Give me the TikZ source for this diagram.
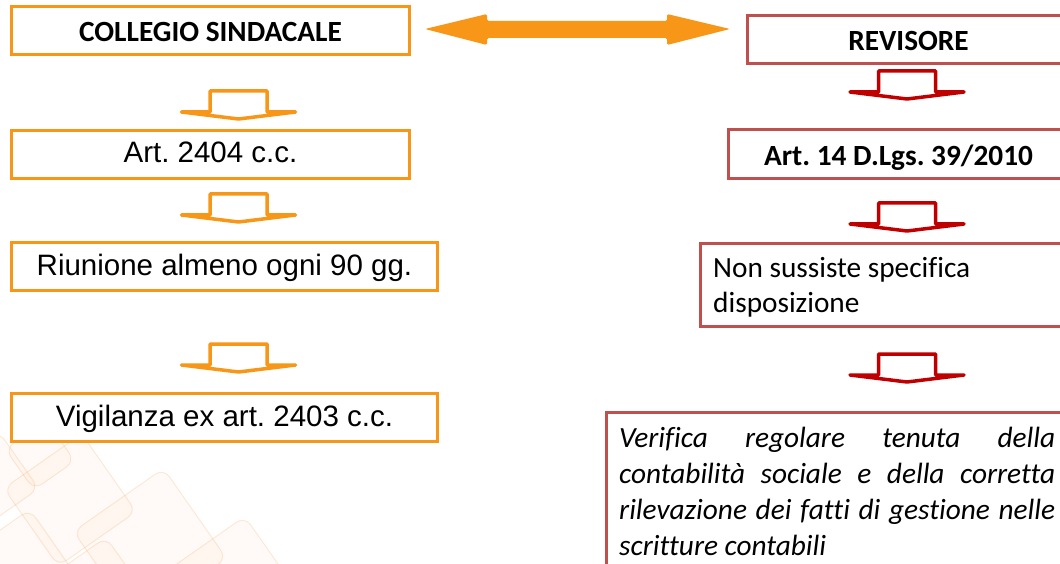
\documentclass[tikz,border=0pt]{standalone}
\usepackage{fontspec}
\setmainfont{Carlito}[Ligatures={NoCommon,NoContextual,NoRare}]
\newfontfamily\arialfont{Liberation Sans}
\definecolor{orng}{RGB}{248,150,24}
\definecolor{rborder}{RGB}{192,80,77}
\definecolor{rarrow}{RGB}{192,0,0}
\definecolor{peach}{RGB}{246,160,90}

\tikzset{
  pics/blockdown/.style={code={
    \draw[line width=3.5pt, line join=round, line cap=round, fill=white, #1]
      (-28.5,21) -- (-28.5,0) -- (28.5,0) -- (28.5,21) -- (57,21) -- (0,28) -- (-57,21) -- cycle;
  }},
  tile/.style={rounded corners=10pt, draw=peach, draw opacity=0.22, fill=peach, fill opacity=0.05, line width=1pt}
}

\begin{document}
\frenchspacing
\begin{tikzpicture}[x=1pt,y=-1pt,
  obox/.style={draw=orng, line width=3pt, fill=white, rectangle, anchor=north west, inner sep=0pt},
  rbox/.style={draw=rborder, line width=3pt, fill=white, rectangle, anchor=north west, inner sep=0pt},
  ltext/.style={font=\arialfont\fontsize{29.5}{34}\selectfont, text height=21pt, text depth=4pt},
  htext/.style={font=\fontsize{29.3}{34}\selectfont\bfseries, text height=27pt, text depth=4pt}
]
\useasboundingbox (0,0) rectangle (1060,564);
\clip (0,0) rectangle (1060,564);

% faint tiled ornament in the lower left corner
\begin{scope}
  \foreach \cx/\cy/\s in {70/500/95, 150/545/110, 20/565/80, 95/600/90, 230/600/120, -10/480/70, 40/455/50}{
    \draw[tile, rotate around={35:(\cx,\cy)}] (\cx-\s/2,\cy-\s/2) rectangle (\cx+\s/2,\cy+\s/2);
  }
\end{scope}

% left column
\node[obox, minimum width=398pt, minimum height=48pt, htext] (cs) at (10,5) {COLLEGIO SINDACALE};
\node[obox, minimum width=398pt, minimum height=48pt, ltext] (art) at (10,129) {Art. 2404 c.c.};
\node[obox, minimum width=426pt, minimum height=48pt, ltext] (riu) at (10,241) {Riunione almeno ogni 90 gg.};
\node[obox, minimum width=426pt, minimum height=48pt, ltext] (vig) at (10,392) {Vigilanza ex art. 2403 c.c.};

\pic at (238.5,91) {blockdown={draw=orng}};
\pic at (238.5,194) {blockdown={draw=orng}};
\pic at (238.5,344) {blockdown={draw=orng}};

% right column
\node[rbox, minimum width=322pt, minimum height=48pt, htext] (rev) at (746,14) {REVISORE};
\node[rbox, minimum width=340pt, minimum height=49pt, htext] (art14) at (727,128) {Art. 14 D.Lgs. 39/2010};
\node[rbox, minimum width=380pt, minimum height=83pt] (non) at (699,242) {};
\node[anchor=base west, inner sep=0pt, font=\fontsize{29.3}{35}\selectfont] (nontext) at (713,277)
  {\parbox[t]{300pt}{Non sussiste specifica\\disposizione}};
\node[rbox, minimum width=470pt, minimum height=175pt] (ver) at (605,411) {};
\node[anchor=base west, inner sep=0pt, font=\itshape\fontsize{29.3}{36.3}\selectfont] (vertext) at (619,447)
  {\parbox[t]{436pt}{\makebox[436pt][s]{Verifica regolare tenuta della}\\
   \makebox[436pt][s]{contabilità sociale e della corretta}\\
   \makebox[436pt][s]{rilevazione dei fatti di gestione nelle}\\
   scritture contabili}};

\pic at (907,71) {blockdown={draw=rarrow}};
\pic at (907,203) {blockdown={draw=rarrow}};
\pic at (907,354) {blockdown={draw=rarrow}};

% two-headed link between the two bodies
\fill[orng, rounded corners=1.5pt]
  (425,29) -- (487,14) -- (487,21) -- (667,21) -- (667,14) -- (730,29)
  -- (667,45) -- (667,38) -- (487,38) -- (487,45) -- cycle;
\end{tikzpicture}
\end{document}
